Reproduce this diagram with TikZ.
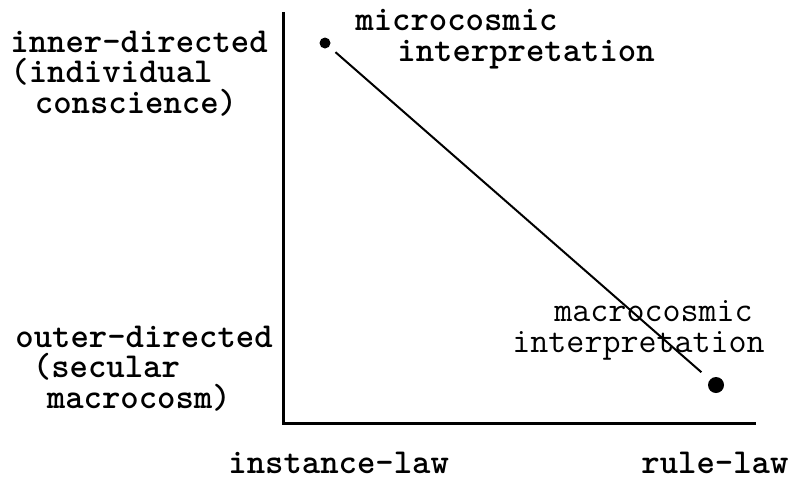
\documentclass[tikz,border=0pt]{standalone}
\usetikzlibrary{positioning}

\begin{document}
\begin{tikzpicture}[
	x=0.5pt, y=-0.5pt,
	every node/.style={font=\ttfamily\fontsize{17.5}{15.2}\selectfont},
	lbl/.style={anchor=base west, inner sep=0pt, align=left, font=\ttfamily\bfseries\fontsize{17.5}{15.2}\selectfont},
	thinlbl/.style={lbl, font=\ttfamily\fontsize{17.5}{15.2}\selectfont},
	axis/.style={line width=1.5pt},
	dot/.style={circle, fill, inner sep=0pt, minimum size=#1}
	]
	
	\useasboundingbox (0,0) rectangle (791,479);
	
	%--- axes ---
	\coordinate (O) at (283,423);
	\coordinate (ytop) at (283,12);
	\coordinate (xend) at (756,423);
	\draw[axis] (ytop) -- (O) -- (xend);
	
	%--- vertical axis labels ---
	\node[lbl] (inner) at (10,113)
	{inner-directed\\(individual\\\hspace*{0.7em}conscience)};
	\node[lbl] (outer) at (15,408)
	{outer-directed\\\hspace*{0.5em}(secular\\\hspace*{0.9em}macrocosm)};
	
	%--- horizontal axis labels ---
	\node[lbl] (instance) at (228,473) {instance-law};
	\node[lbl] (rule) at (641,473) {rule-law};
	
	%--- the two interpretations ---
	\node[dot=5.5pt] (micro) at (325,43) {};
	\node[dot=8pt] (macro) at (716,385) {};
	\draw[line width=1pt, shorten <=4pt, shorten >=5.5pt] (micro) -- (macro);
	
	\node[lbl] (microlbl) at (355,61)
	{microcosmic\\\hspace*{1.2em}interpretation};
	\node[thinlbl] (macrolbl) at (512,352)
	{\hspace*{1.2em}macrocosmic\\interpretation};
	
\end{tikzpicture}
\end{document}
